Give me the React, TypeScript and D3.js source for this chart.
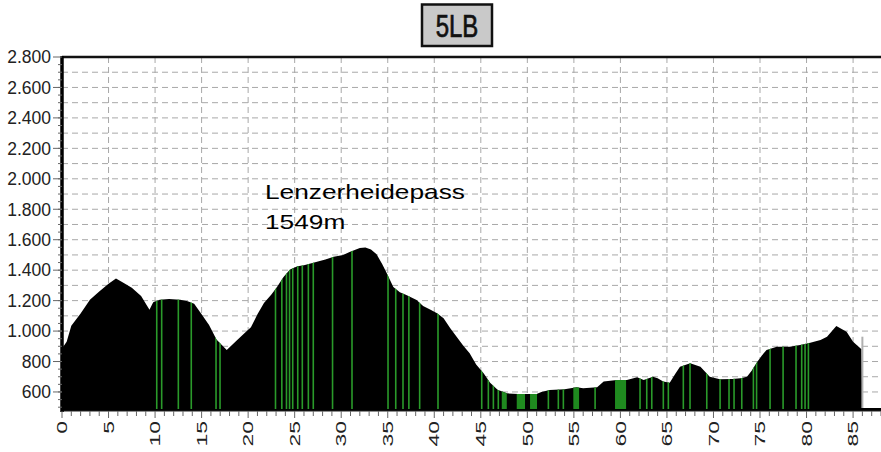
import React from "react";
import * as d3 from "d3";

// elevation profile (km, m)
const distanceKm = [
  0, 0.5, 1, 2, 3, 4, 5, 5.8, 6.5, 7.5, 8.5, 9.4, 9.8, 10.5, 11.5, 12.7, 13.5, 14.2, 15, 15.8,
  16.6, 17.7, 18.8, 19.6, 20.3, 21, 21.7, 22.5, 23.1, 23.8, 24.5, 25.3, 26, 27.4, 28.3, 29.2,
  30.2, 30.9, 32, 32.6, 33.2, 33.8, 34.4, 34.9, 35.6, 36.3, 37, 38.1, 38.8, 39.6, 40.3, 41,
  41.7, 42.4, 43.1, 43.8, 44.5, 45.3, 46, 46.8, 47.8, 49, 51, 51.5, 52.4, 54, 55.3, 56, 57.5,
  58.2, 59.6, 60.7, 61.8, 62.5, 63.5, 64, 64.6, 65.3, 65.9, 66.4, 67.5, 68.6, 69.6, 70.7, 72,
  72.9, 73.6, 74.1, 74.6, 75.2, 75.7, 76.8, 78.2, 79.3, 80.4, 81.5, 82.2, 83.2, 84.3, 85, 85.9,
  86, 88,
];
const elevation = [
  885, 930, 1035, 1115, 1205, 1260, 1310, 1345, 1320, 1285, 1230, 1140, 1190, 1205, 1210, 1205,
  1195, 1180, 1110, 1040, 945, 875, 940, 985, 1025, 1110, 1185, 1240, 1290, 1355, 1405, 1425,
  1432, 1455, 1470, 1488, 1500, 1520, 1545, 1549, 1535, 1505, 1440, 1380, 1290, 1255, 1237,
  1204, 1165, 1140, 1117, 1084, 1020, 963, 905, 854, 780, 723, 660, 615, 591, 587, 587, 600,
  613, 618, 631, 624, 631, 668, 679, 679, 697, 679, 700, 690, 668, 661, 720, 766, 788, 766,
  700, 683, 685, 690, 700, 740, 788, 840, 876, 897, 897, 909, 924, 941, 963, 1033, 996, 930,
  880, 495, 495,
];

// green markers along the route (km)
const greenLines = [
  10.18, 10.71, 12.5, 13.89, 16.55, 16.98, 22.94, 23.62, 24.12, 24.45, 24.79, 25.33, 25.82,
  26.47, 27.0, 29.07, 31.16, 35.03, 35.86, 36.64, 37.27, 38.43, 40.4, 45.1, 45.81, 46.35, 46.88,
  52.26, 53.33, 53.87, 57.28, 62.11, 62.83, 63.37, 64.61, 65.15, 66.76, 67.48, 69.28, 70.71,
  71.67, 72.21, 73.04, 74.29, 74.63, 76.08, 77.48, 78.87, 79.48, 79.84, 80.2,
];
const greenBlockStart = [47.25, 48.86, 50.29, 54.94, 59.42];
const greenBlockEnd = [47.79, 49.75, 51.04, 55.56, 60.61];

const yTicks = [600, 800, 1000, 1200, 1400, 1600, 1800, 2000, 2200, 2400, 2600, 2800];
const yTickLabels = ["600", "800", "1.000", "1.200", "1.400", "1.600", "1.800", "2.000", "2.200", "2.400", "2.600", "2.800"];
const xTicks = d3.range(0, 90, 5);
const title = "5LB";
const passName = "Lenzerheidepass";
const passHeight = "1549m";
const endMarker = [86, 963];

const width = 881;
const height = 452;
const margin = { top: 57, right: 0, bottom: 41, left: 62 };
const font = "'Liberation Sans', Arial, sans-serif";

export default function App() {
  const x = d3.scaleLinear().domain([0, 88]).range([margin.left, width - margin.right]);
  const y = d3.scaleLinear().domain([475, 2800]).range([height - margin.bottom, margin.top]);
  const y0 = y(475);

  const points: [number, number][] = distanceKm.map((d, i) => [d, elevation[i]]);
  const area = d3
    .area<[number, number]>()
    .x((d) => x(d[0]))
    .y0(y0)
    .y1((d) => y(d[1]))(points) as string;

  const hGrid = d3.range(600, 2800, 100);
  const yMinor = d3.range(500, 2800, 50);
  const xMinor = d3.range(0, 89, 1);

  return (
    <svg width={width} height={height} style={{ position: "absolute", left: 0, top: 0, background: "#fff" }}>
      <defs>
        <clipPath id="profile">
          <path d={area} />
        </clipPath>
      </defs>

      {/* grid */}
      <g stroke="#a8a8a8" strokeWidth={1} strokeDasharray="6,4">
        {hGrid.map((v) => (
          <line key={"h" + v} x1={margin.left} x2={width} y1={y(v)} y2={y(v)} />
        ))}
        {xTicks.filter((t) => t > 0).map((t) => (
          <line key={"v" + t} x1={x(t)} x2={x(t)} y1={margin.top} y2={y0} />
        ))}
      </g>

      {/* profile */}
      <path d={area} fill="#000" />
      <g clipPath="url(#profile)" fill="#2a9a2a">
        {greenLines.map((k, i) => (
          <rect key={"g" + i} x={x(k) - 0.8} width={1.6} y={margin.top} height={y0 - margin.top - 2} />
        ))}
        {greenBlockStart.map((s, i) => (
          <rect key={"b" + i} x={x(s)} width={x(greenBlockEnd[i]) - x(s)} y={margin.top} height={y0 - margin.top - 2} fill="#1f8a1f" />
        ))}
      </g>
      <line x1={x(endMarker[0])} x2={x(endMarker[0])} y1={y(endMarker[1])} y2={y0 - 3} stroke="#b0b0b0" strokeWidth={2} />

      {/* frame */}
      <line x1={margin.left} x2={width} y1={margin.top} y2={margin.top} stroke="#111" strokeWidth={2.5} />
      <line x1={margin.left} x2={width} y1={y0} y2={y0} stroke="#222" strokeWidth={1} />
      <line x1={margin.left} x2={margin.left} y1={margin.top - 1} y2={y0 + 1} stroke="#000" strokeWidth={3.5} />

      {/* y axis */}
      <g stroke="#666" strokeWidth={1}>
        {yMinor.map((v) => (
          <line key={"ym" + v} x1={margin.left - 4} x2={margin.left} y1={y(v)} y2={y(v)} />
        ))}
        {yTicks.map((v) => (
          <line key={"yt" + v} x1={margin.left - 9} x2={margin.left} y1={y(v)} y2={y(v)} />
        ))}
      </g>
      <g fontFamily={font} fontSize={17.5} fill="#222" textAnchor="end">
        {yTicks.map((v, i) => (
          <text key={"yl" + v} x={margin.left - 11} y={y(v)} dy="0.36em">
            {yTickLabels[i]}
          </text>
        ))}
      </g>

      {/* x axis */}
      <g stroke="#666" strokeWidth={1}>
        {xMinor.map((t) => (
          <line key={"xm" + t} x1={x(t)} x2={x(t)} y1={y0} y2={y0 + (t % 5 === 0 ? 7 : 5)} />
        ))}
      </g>
      <g fontFamily={font} fontSize={17} fill="#222" textAnchor="end">
        {xTicks.map((t) => (
          <text key={"xl" + t} transform={`translate(${x(t)},${y0 + 10}) rotate(-90) scale(1.35,0.85)`} dy="0.36em">
            {t}
          </text>
        ))}
      </g>

      {/* annotation */}
      <g fontFamily={font} fontSize={21} fill="#000">
        <text transform={`translate(265,199) scale(1.25,1)`}>{passName}</text>
        <text transform={`translate(265,229) scale(1.25,1)`}>{passHeight}</text>
      </g>

      {/* title box */}
      <rect x={422} y={4.5} width={70} height={41.5} fill="#c9c9c9" stroke="#111" strokeWidth={2.5} />
      <text
        transform={`translate(457,37) scale(0.8,1.02)`}
        textAnchor="middle"
        fontFamily={font}
        fontSize={30}
        fill="#111"
        stroke="#111"
        strokeWidth={0.7}
      >
        {title}
      </text>
    </svg>
  );
}
